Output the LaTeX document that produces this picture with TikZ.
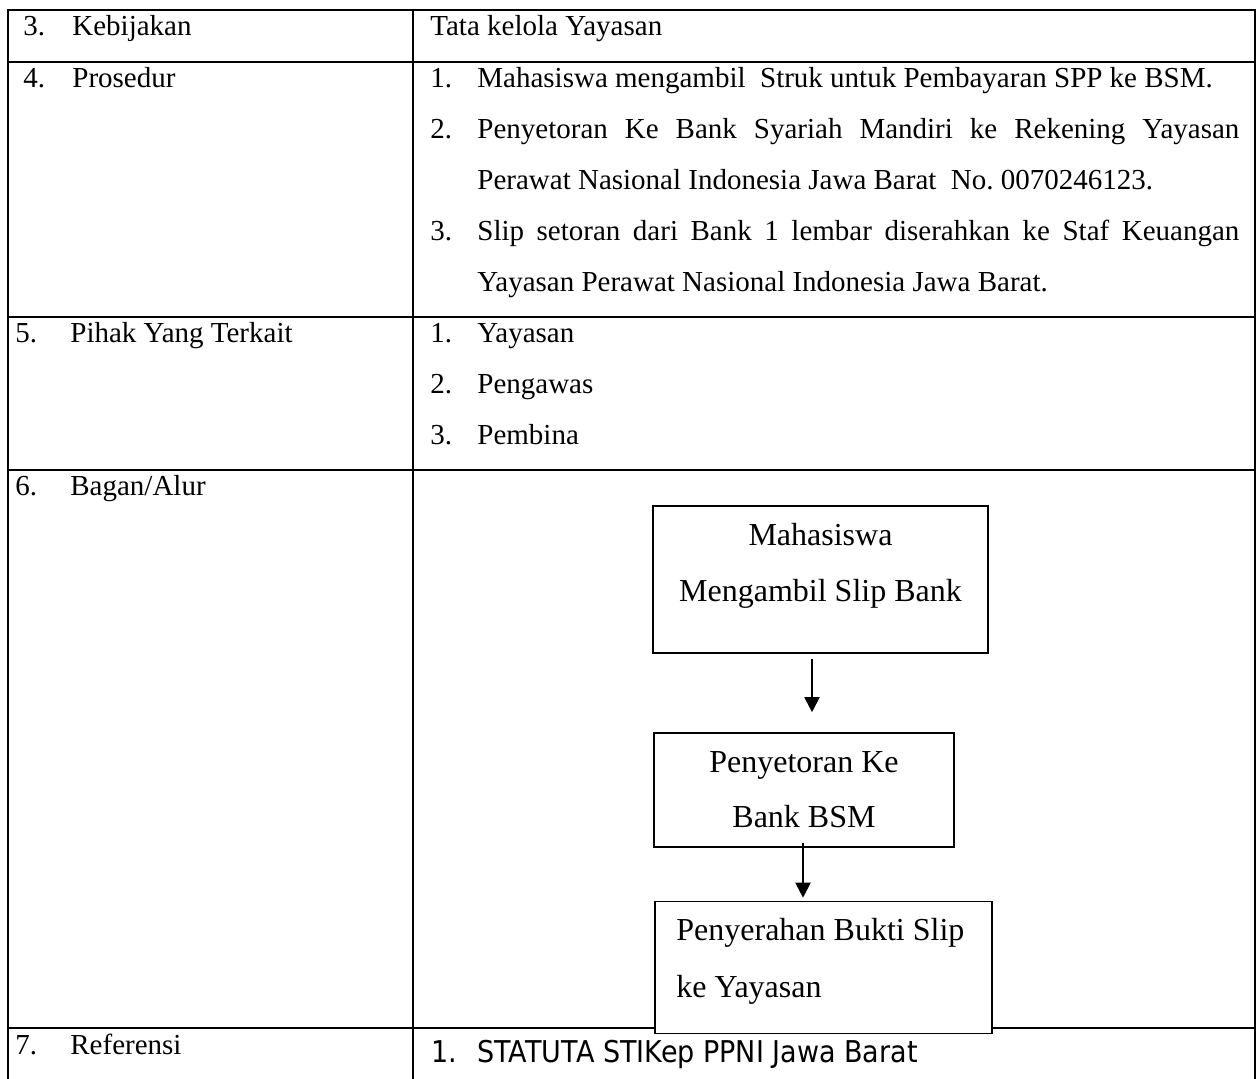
\documentclass[tikz,border=0pt]{standalone}
\usepackage{fontspec}
\setmainfont{Liberation Serif}
\newfontfamily\refsans{DejaVu Sans}
\usetikzlibrary{arrows.meta}
\frenchspacing

\begin{document}
\begin{tikzpicture}[x=0.5pt, y=-0.5pt,
  rule/.style={line width=1pt, line cap=rect},
  cell/.style={anchor=base west, inner sep=0pt, font=\fontsize{14.5}{17}\selectfont},
  reftxt/.style={anchor=base west, inner sep=0pt, font=\refsans\fontsize{15}{18}\selectfont},
  flowbox/.style={draw, line width=0.8pt, fill=white, inner sep=0pt},
  flowtxt/.style={anchor=base, inner sep=0pt, font=\fontsize{16}{19}\selectfont},
  flowtxtl/.style={flowtxt, anchor=base west},
  flow/.style={-{Triangle[length=7.5pt, width=7.5pt]}, line width=1pt}]

\useasboundingbox (0,0) rectangle (1258,1079);
\fill[white] (0,0) rectangle (1258,1079);

% table frame and rules
\draw[rule] (8,1090) -- (8,10) -- (1255,10) -- (1255,1090);
\draw[rule] (413,10) -- (413,1090);
\foreach \ry in {62,317,470,1028}
  \draw[rule] (8,\ry) -- (1255,\ry);

% row 3
\node[cell] (n3) at (23,36) {3.};
\node[cell] (h3) at (72,36) {Kebijakan};
\node[cell] (c3) at (430,36) {Tata kelola Yayasan};

% row 4
\node[cell] (n4) at (23,88) {4.};
\node[cell] (h4) at (72,88) {Prosedur};
\node[cell] (p1n) at (430,88) {1.};
\node[cell] (p1) at (477,88) {Mahasiswa mengambil\ \ Struk untuk Pembayaran SPP ke BSM.};
\node[cell] (p2n) at (430,139) {2.};
\node[cell] (p2a) at (477,139) {\makebox[381pt][s]{Penyetoran Ke Bank Syariah Mandiri ke Rekening Yayasan}};
\node[cell] (p2b) at (477,190) {Perawat Nasional Indonesia Jawa Barat\ \ No. 0070246123.};
\node[cell] (p3n) at (430,241) {3.};
\node[cell] (p3a) at (477,241) {\makebox[381pt][s]{Slip setoran dari Bank 1 lembar diserahkan ke Staf Keuangan}};
\node[cell] (p3b) at (477,292) {Yayasan Perawat Nasional Indonesia Jawa Barat.};

% row 5
\node[cell] (n5) at (15,343) {5.};
\node[cell] (h5) at (70,343) {Pihak Yang Terkait};
\node[cell] (q1n) at (430,343) {1.};
\node[cell] (q1) at (477,343) {Yayasan};
\node[cell] (q2n) at (430,394) {2.};
\node[cell] (q2) at (477,394) {Pengawas};
\node[cell] (q3n) at (430,445) {3.};
\node[cell] (q3) at (477,445) {Pembina};

% row 6
\node[cell] (n6) at (15,496) {6.};
\node[cell] (h6) at (70,496) {Bagan/Alur};

% flow chart
\node[flowbox, minimum width=167.5pt, minimum height=73.5pt] (b1) at (820.5,579.5) {};
\node[flowtxt] (b1a) at (820.5,546) {Mahasiswa};
\node[flowtxt] (b1b) at (820.5,602) {Mengambil Slip Bank};

\node[flowbox, minimum width=150pt, minimum height=57pt] (b2) at (804,790) {};
\node[flowtxt] (b2a) at (804,772) {Penyetoran Ke};
\node[flowtxt] (b2b) at (804,827) {Bank BSM};

\node[flowbox, minimum width=168.5pt, minimum height=66pt] (b3) at (823.5,967.5) {};
\node[flowtxtl] (b3a) at (676,940) {Penyerahan Bukti Slip};
\node[flowtxtl] (b3b) at (676,997) {ke Yayasan};

\coordinate (a1s) at ([xshift=-4.25pt, yshift=-2.5pt]b1.south);
\draw[flow] (a1s) -- ([yshift=10pt]b2.north -| a1s);
\coordinate (a2s) at ([xshift=-0.5pt, yshift=2.5pt]b2.south);
\draw[flow] (a2s) -- ([yshift=1.5pt]b3.north -| a2s);

% row 7
\node[cell] (n7) at (15,1054) {7.};
\node[cell] (h7) at (70,1054) {Referensi};
\node[reftxt] (r1n) at (431,1062) {\scalebox{0.9}[1]{1.}};
\node[reftxt] (r1) at (477,1062) {\scalebox{0.9}[1]{STATUTA STIKep PPNI Jawa Barat}};
\end{tikzpicture}
\end{document}
